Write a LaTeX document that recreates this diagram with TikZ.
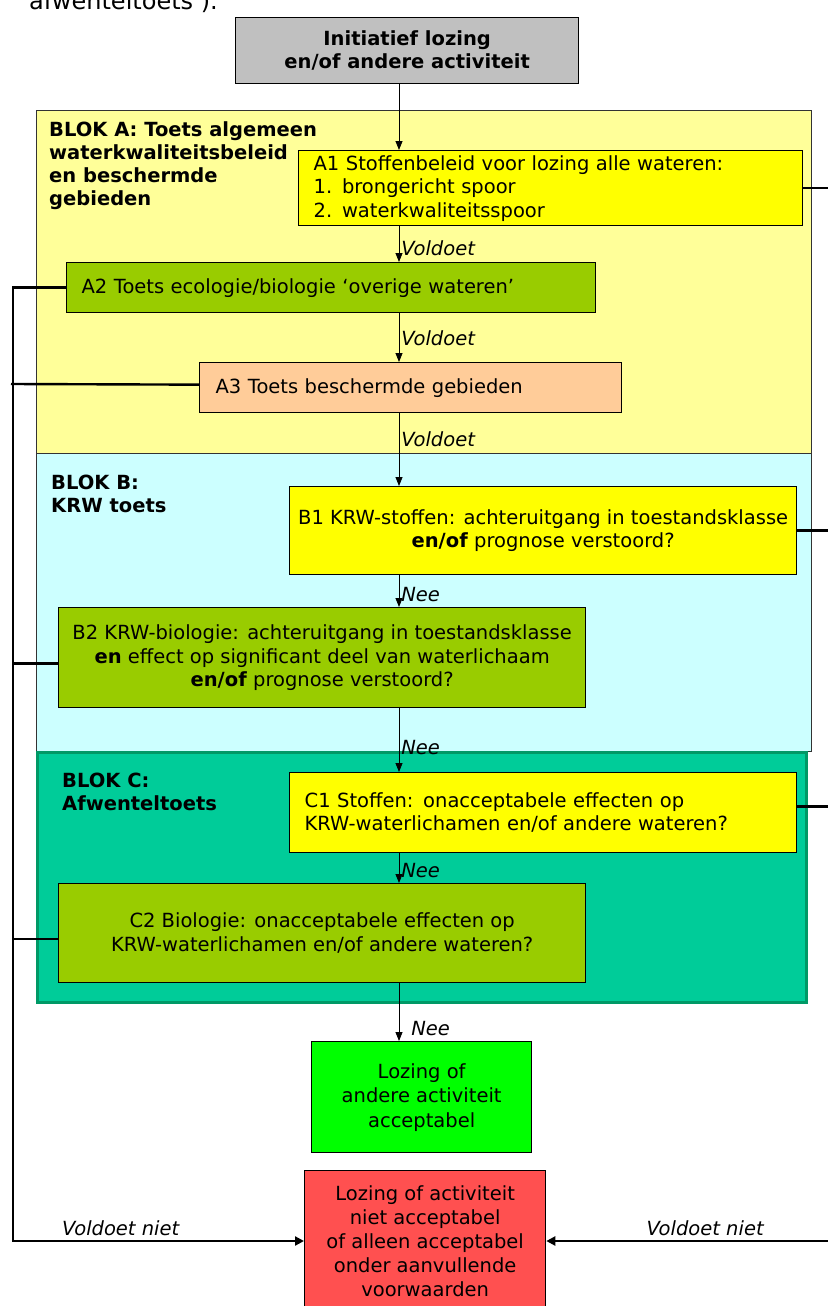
\documentclass[tikz,border=0pt]{standalone}
\usepackage{fontspec}
\setmainfont{DejaVu Sans}
\usetikzlibrary{arrows.meta}
\definecolor{topgray}{HTML}{C0C0C0}
\definecolor{blokA}{HTML}{FFFF99}
\definecolor{blokB}{HTML}{CCFFFF}
\definecolor{blokC}{HTML}{00CC99}
\definecolor{blokCb}{HTML}{009966}
\definecolor{yel}{HTML}{FFFF00}
\definecolor{olive}{HTML}{99CC00}
\definecolor{peach}{HTML}{FFCC99}
\definecolor{okgreen}{HTML}{00FF00}
\definecolor{nogo}{HTML}{FF5050}
\begin{document}
\begin{tikzpicture}[x=1pt,y=-1pt,
  txt/.style={font=\fontsize{19.5}{23.5}\selectfont},
  box/.style={draw=black, line width=1.3pt, anchor=north west, inner sep=0pt, txt},
  blok/.style={draw=black!80, line width=0.8pt},
  bloklbl/.style={anchor=north west, align=left, inner sep=0pt, font=\bfseries\fontsize{19.5}{23.3}\selectfont},
  arr/.style={line width=0.8pt, -{Triangle[length=9pt,width=7pt]}},
  lbl/.style={anchor=west, inner sep=2pt, font=\itshape\fontsize{19.5}{22}\selectfont},
  fb/.style={line width=2.4pt},
  fbarr/.style={line width=2.4pt, -{Triangle[length=9pt,width=9pt]}},
]
\useasboundingbox (0,0) rectangle (827,1306);
% cut-off text at the top
\node[anchor=base east, inner sep=0pt, font=\fontsize{24}{26}\selectfont] (toptext) at (218,10) {‘afwenteltoets’).};
% blocks
\fill[blokA] (36,110) rectangle (811,453);
\draw[blok] (36,110) rectangle (811,453);
\fill[blokB] (36,453) rectangle (811,751);
\draw[blok] (36,453) rectangle (811,751);
\fill[blokC] (36,751) rectangle (808,1004);
\draw[blokCb, line width=3pt] (37.5,752.5) rectangle (806.5,1002.5);
\node[bloklbl] (lblA) at (49,121) {BLOK A: Toets algemeen\\waterkwaliteitsbeleid\\en beschermde\\gebieden};
\node[bloklbl] (lblB) at (51,475) {BLOK B:\\KRW toets};
\node[bloklbl] (lblC) at (62,773) {BLOK C:\\Afwenteltoets};
% nodes
\node[box, fill=topgray, minimum width=343pt, minimum height=66pt, align=center, font=\bfseries\fontsize{19.5}{23.5}\selectfont] (init) at (235,17) {Initiatief lozing\\en/of andere activiteit};
\node[box, fill=yel, minimum width=504pt, minimum height=75pt, text width=474pt, align=left, inner xsep=15pt] (A1) at (298,150) {A1 Stoffenbeleid voor lozing alle wateren:\\1. brongericht spoor\\2. waterkwaliteitsspoor};
\node[box, fill=olive, minimum width=529pt, minimum height=50pt, text width=499pt, align=left, inner xsep=15pt] (A2) at (66,262) {A2 Toets ecologie/biologie ‘overige wateren’};
\node[box, fill=peach, minimum width=422pt, minimum height=50pt, text width=390pt, align=left, inner xsep=16pt] (A3) at (199,362) {A3 Toets beschermde gebieden};
\node[box, fill=yel, minimum width=507pt, minimum height=88pt, align=center] (B1) at (289,486) {B1 KRW-stoffen: achteruitgang in toestandsklasse\\\textbf{en/of} prognose verstoord?};
\node[box, fill=olive, minimum width=527pt, minimum height=100pt, align=center] (B2) at (58,607) {B2 KRW-biologie: achteruitgang in toestandsklasse\\\textbf{en} effect op significant deel van waterlichaam\\\textbf{en/of} prognose verstoord?};
\node[box, fill=yel, minimum width=507pt, minimum height=80pt, text width=477pt, align=left, inner xsep=15pt] (C1) at (289,772) {C1 Stoffen: onacceptabele effecten op\\KRW-waterlichamen en/of andere wateren?};
\node[box, fill=olive, minimum width=527pt, minimum height=99pt, align=center] (C2) at (58,883) {C2 Biologie: onacceptabele effecten op\\KRW-waterlichamen en/of andere wateren?};
\node[box, fill=okgreen, minimum width=220pt, minimum height=111pt, align=center, font=\fontsize{19.5}{24.5}\selectfont] (ok) at (311,1041) {Lozing of\\andere activiteit\\acceptabel};
\node[box, fill=nogo, minimum width=241pt, minimum height=142pt, align=center, font=\fontsize{19.5}{24}\selectfont] (no) at (304,1170) {Lozing of activiteit\\niet acceptabel\\of alleen acceptabel\\onder aanvullende\\voorwaarden};
% main line x
\coordinate (ax) at (399,0);
\draw[arr] (init.south -| ax) -- (A1.north -| ax);
\draw[arr] (A1.south -| ax) -- node[lbl, pos=0.62] {Voldoet} (A2.north -| ax);
\draw[arr] (A2.south -| ax) -- node[lbl, pos=0.52] {Voldoet} (A3.north -| ax);
\draw[arr] (A3.south -| ax) -- node[lbl, pos=0.35] {Voldoet} (B1.north -| ax);
\draw[arr] (B1.south -| ax) -- node[lbl, pos=0.6] {Nee} (B2.north -| ax);
\draw[arr] (B2.south -| ax) -- node[lbl, pos=0.615] {Nee} (C1.north -| ax);
\draw[arr] (C1.south -| ax) -- node[lbl, pos=0.58] {Nee} (C2.north -| ax);
\draw[arr] (C2.south -| ax) -- node[lbl, pos=0.78, xshift=10pt] {Nee} (ok.north -| ax);
% feedback, left
\coordinate (Lbot) at (13,1241);
\coordinate (LA3) at (11,384);
\coordinate (Rbot) at (835,1241);
\coordinate (Rx) at (835,0);
\draw[fbarr] (A2.west) -| (Lbot) -- node[lbl, pos=0.37, above=4pt, anchor=south, inner sep=0pt] {Voldoet niet} (no.west |- Lbot);
\draw[fb] ([yshift=3pt]A3.west) -- (LA3);
\draw[fb] ([yshift=-6pt]B2.west) -- ([yshift=-6pt]B2.west -| Lbot);
\draw[fb] ([yshift=-6pt]C2.west) -- ([yshift=-6pt]C2.west -| Lbot);
% feedback, right
\draw[fb] (A1.east) -- (A1.east -| Rx);
\draw[fb] (B1.east) -- (B1.east -| Rx);
\draw[fb] ([yshift=6pt]C1.east) -- ([yshift=6pt]C1.east -| Rx);
\draw[fbarr] (Rbot) -- node[lbl, pos=0.45, above=4pt, anchor=south, inner sep=0pt] {Voldoet niet} (no.east |- Rbot);
\end{tikzpicture}
\end{document}
